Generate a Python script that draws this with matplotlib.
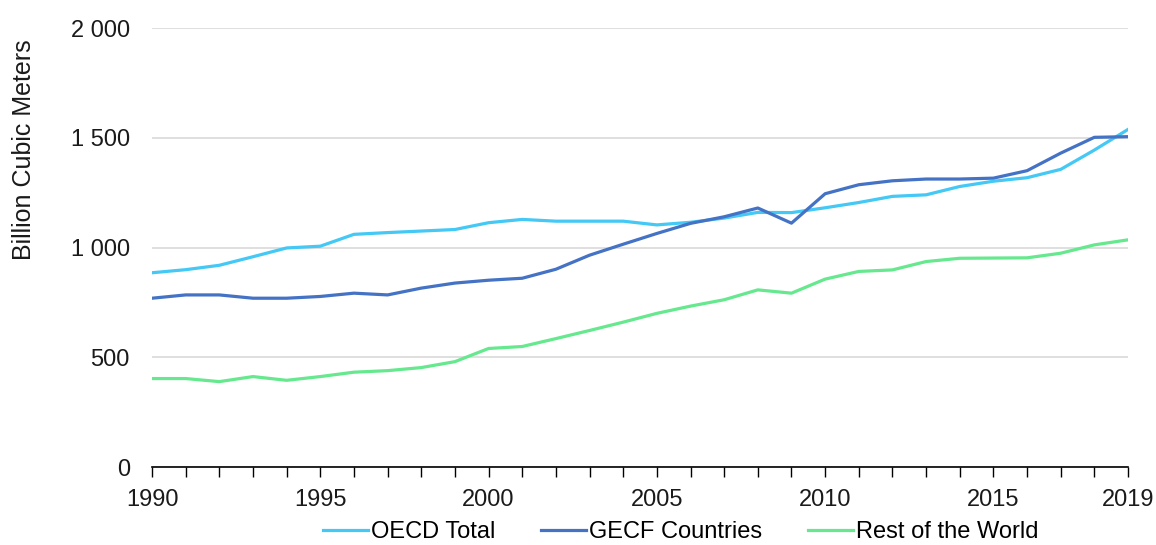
import numpy as np
import matplotlib.pyplot as plt
from matplotlib.ticker import FuncFormatter, MultipleLocator

plt.rcParams["font.family"] = ["Liberation Sans", "DejaVu Sans"]

years = list(range(1990, 2020))

oecd_total = [
    885, 899, 919, 958, 998, 1006, 1060, 1068, 1075, 1082,
    1113, 1128, 1120, 1120, 1120, 1103, 1115, 1134, 1160, 1159,
    1181, 1205, 1233, 1240, 1278, 1302, 1318, 1356, 1444, 1538,
]
gecf_countries = [
    769, 784, 784, 769, 769, 777, 792, 784, 815, 838,
    851, 860, 901, 965, 1015, 1064, 1110, 1140, 1180, 1111,
    1245, 1286, 1304, 1312, 1312, 1316, 1350, 1430, 1502, 1505,
]
rest_of_world = [
    403, 403, 389, 412, 395, 412, 432, 439, 453, 480,
    540, 549, 585, 622, 660, 700, 733, 762, 807, 792,
    856, 891, 898, 936, 951, 952, 953, 974, 1012, 1035,
]

series = [
    ("OECD Total", oecd_total, "#44C8F5"),
    ("GECF Countries", gecf_countries, "#4472C4"),
    ("Rest of the World", rest_of_world, "#66E88E"),
]

fig = plt.figure(figsize=(11.56, 5.45), dpi=100)
ax = fig.add_axes([0.1315, 0.1431, 0.8443, 0.8055])

for name, values, color in series:
    ax.plot(years, values, color=color, linewidth=2.3, label=name,
            solid_joinstyle="round")

ax.set_xlim(1990, 2019)
ax.set_ylim(0, 2000)

ax.yaxis.set_major_locator(MultipleLocator(500))
ax.yaxis.set_major_formatter(
    FuncFormatter(lambda v, _: f"{int(v):,}".replace(",", " "))
)
ax.grid(axis="y", color="#D9D9D9", linewidth=1.2)
ax.set_axisbelow(True)

ax.set_xticks(years)
ax.set_xticklabels(
    [str(y) if (y % 5 == 0 or y == 2019) else "" for y in years]
)

for side in ["top", "right", "left"]:
    ax.spines[side].set_visible(False)
ax.spines["bottom"].set_color("black")
ax.spines["bottom"].set_linewidth(1.2)

ax.tick_params(axis="y", length=0, pad=16, labelsize=17, labelcolor="#1a1a1a")
ax.tick_params(axis="x", direction="out", length=7, width=1, pad=9,
               labelsize=17, labelcolor="#1a1a1a")

fig.text(0.021, 0.725, "Billion Cubic Meters", rotation=90,
         ha="center", va="center", fontsize=18, color="#1a1a1a")

fig.legend(loc="center", bbox_to_anchor=(0.589, 0.023), ncol=3,
           frameon=False, fontsize=17, handlelength=1.9,
           handletextpad=0.13, columnspacing=1.95)

fig.savefig("out.png", dpi=100)
